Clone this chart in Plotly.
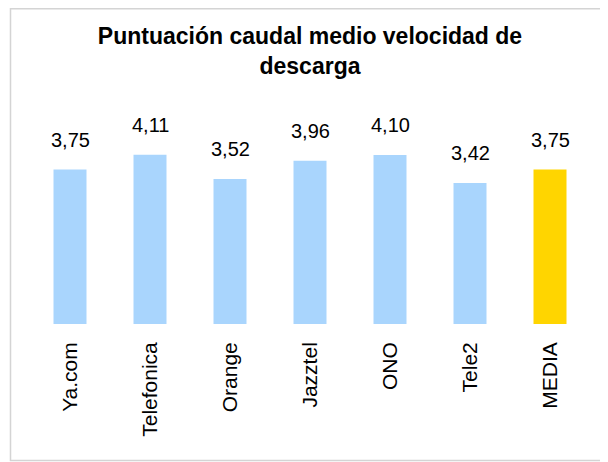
import plotly.graph_objects as go

categories = ["Ya.com", "Telefonica", "Orange", "Jazztel", "ONO", "Tele2", "MEDIA"]
values = [3.75, 4.11, 3.52, 3.96, 4.10, 3.42, 3.75]
value_labels = ["3,75", "4,11", "3,52", "3,96", "4,10", "3,42", "3,75"]
colors = ["#A9D5FD"] * 6 + ["#FFD500"]

# page body has an 8px margin; figure is sized to fit the 608x462 window
W, H = 600, 454
ml, mr, mt, mb = 22, 18, 110, 138
pw, ph = W - ml - mr, H - mt - mb

fig = go.Figure()
fig.add_trace(go.Bar(
    x=categories, y=values, marker=dict(color=colors, line=dict(width=0)),
    hoverinfo="skip",
))

for c, v, t in zip(categories, values, value_labels):
    fig.add_annotation(x=c, y=v, text=t, showarrow=False, yanchor="bottom",
                       yshift=17, font=dict(family="Liberation Sans", size=20, color="#000000"))

def px_to_paper_x(px):
    return (px - ml) / pw

def px_to_paper_y(py):
    return (H - mb - py) / ph

fig.add_shape(type="rect", xref="paper", yref="paper",
              x0=px_to_paper_x(2.5), x1=px_to_paper_x(610),
              y0=px_to_paper_y(452.5), y1=px_to_paper_y(0.75),
              line=dict(color="#D4D4D4", width=1.5), fillcolor="rgba(0,0,0,0)", layer="below")

fig.update_layout(
    width=W, height=H,
    margin=dict(l=ml, r=mr, t=mt, b=mb, pad=0),
    paper_bgcolor="white", plot_bgcolor="white",
    bargap=0.5875,
    showlegend=False,
    title=dict(text="<b>Puntuación caudal medio velocidad de<br>descarga</b>",
               x=302 / W, xanchor="center", xref="container",
               y=1 - 36 / H, yanchor="top", yref="container",
               font=dict(family="Liberation Sans", size=23, color="#000000")),
    xaxis=dict(tickangle=-90, showgrid=False, showline=False, ticks="",
               ticklabelstandoff=13, automargin=False,
               tickfont=dict(family="Liberation Sans", size=21, color="#000000")),
    yaxis=dict(range=[0, 5], visible=False, showgrid=False),
)

fig.write_html("out.html")
